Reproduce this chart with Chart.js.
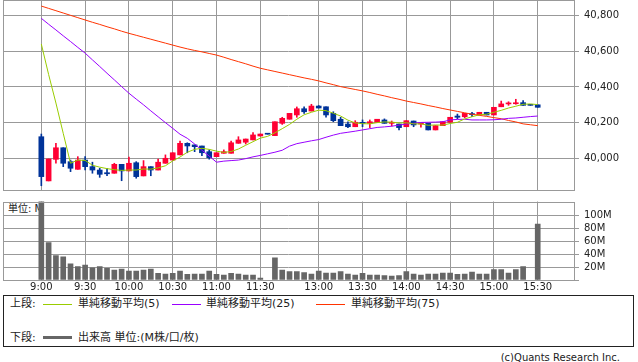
<!DOCTYPE html>
<html><head><meta charset="utf-8">
<script src="https://cdn.jsdelivr.net/npm/chart.js@4/dist/chart.umd.min.js"></script>
<style>
body{margin:0;background:#fff;width:638px;height:362px;overflow:hidden;position:relative;font-family:"DejaVu Sans","Noto Sans CJK JP",sans-serif;}
canvas{position:absolute;left:0;}
#c1{top:0;}
#c2{top:195px;}
.t{position:absolute;font-size:11px;color:#222;white-space:nowrap;line-height:13px;font-family:"DejaVu Sans","Noto Sans CJK JP",sans-serif;}
.box{position:absolute;left:3px;top:295px;width:631px;height:52px;border:1px solid #222;box-sizing:border-box;}
.ln{position:absolute;width:29px;}
</style></head><body>
<div class="t" style="left:8px;top:203px;font-size:10px;line-height:12px;">単位: M</div>
<canvas id="c1" width="638" height="191" style="width:638px;height:191px"></canvas>
<canvas id="c2" width="638" height="100" style="width:638px;height:100px"></canvas>
<div class="box"></div>
<div class="t" style="left:10px;top:297px;">上段:</div>
<div class="ln" style="left:43px;top:304px;height:1px;background:#99cc00"></div>
<div class="t" style="left:78px;top:297px;">単純移動平均(5)</div>
<div class="ln" style="left:172px;top:304px;height:1px;background:#9900ff"></div>
<div class="t" style="left:206px;top:297px;">単純移動平均(25)</div>
<div class="ln" style="left:316px;top:304px;height:1px;background:#ff3300"></div>
<div class="t" style="left:351px;top:297px;">単純移動平均(75)</div>
<div class="t" style="left:10px;top:331px;">下段:</div>
<div class="ln" style="left:43px;top:336px;height:3px;background:#666666"></div>
<div class="t" style="left:78px;top:331px;">出来高 単位:(M株/口/枚)</div>
<div class="t" style="right:18px;top:351px;font-size:10px;">(c)Quants Research Inc.</div>
<script>
// slot categories (5-minute bars)
const slots = ['9:00','9:05','9:10','9:15','9:20','9:25','9:30','9:35','9:40','9:45','9:50','9:55',
 '10:00','10:05','10:10','10:15','10:20','10:25','10:30','10:35','10:40','10:45','10:50','10:55',
 '11:00','11:05','11:10','11:15','11:20','11:25','11:30','',
 '12:30','12:35','12:40','12:45','12:50','12:55','13:00','13:05','13:10','13:15','13:20','13:25',
 '13:30','13:35','13:40','13:45','13:50','13:55','14:00','14:05','14:10','14:15','14:20','14:25',
 '14:30','14:35','14:40','14:45','14:50','14:55','15:00','15:05','15:10','15:15','15:20','15:25','15:30'];
const tickIdx = [0,6,12,18,24,30,38,44,50,56,62,68];
const tickLabels = ['9:00','9:30','10:00','10:30','11:00','11:30','13:00','13:30','14:00','14:30','15:00','15:30'];
const priceTicks = [40000,40200,40400,40600,40800];
const volTicks = [0,20,40,60,80,100];

const open  = [40121,39873,39994,40059,39981,39938,39990,39953,39934,39919,39916,39966,39929,39975,39901,39953,39934,39972,39990,40019,
 40084,40075,40069,40037,40009,40028,40028,40084,40090,40103,40125,40137,40127,40196,40219,40243,40278,40265,40293,40289,
 40252,40219,40192,40177,40199,40196,40202,40215,40196,40192,40177,40209,40192,40196,40159,40183,40202,40237,40233,40248,
 40243,40258,40243,40289,40305,40306,40312,40299,40300];
const high  = [40136,39996,40084,40059,39990,40009,40009,39978,39944,39944,39972,39966,40006,39981,39987,39953,39996,40019,40031,40097,
 40087,40075,40069,40047,40031,40047,40097,40121,40108,40144,40136,40137,40205,40230,40252,40288,40289,40303,40296,40289,
 40261,40230,40205,40211,40215,40215,40219,40221,40209,40192,40211,40209,40196,40196,40183,40205,40230,40248,40252,40258,
 40258,40258,40286,40321,40317,40331,40323,40299,40300];
const low   = [39846,39873,39972,39953,39925,39938,39934,39916,39893,39902,39916,39874,39929,39888,39901,39902,39934,39972,39990,40019,
 40031,40037,40015,39995,40009,40028,40028,40084,40080,40103,40125,40135,40127,40190,40219,40230,40252,40265,40282,40230,
 40205,40183,40172,40177,40177,40172,40202,40196,40181,40159,40177,40177,40174,40159,40159,40183,40202,40221,40228,40233,
 40243,40243,40243,40289,40297,40303,40297,40297,40286];
const close = [39897,39996,40059,39972,39944,39990,39953,39934,39910,39913,39966,39929,39972,39897,39953,39934,39978,40000,40031,40084,
 40069,40065,40031,40003,40031,40037,40087,40103,40108,40131,40136,40135,40205,40224,40252,40278,40261,40293,40282,40243,
 40211,40183,40177,40202,40196,40205,40219,40196,40199,40172,40211,40187,40196,40159,40183,40205,40230,40230,40252,40245,
 40258,40243,40286,40305,40308,40309,40297,40297,40286];

const ma5  = [40641,40470,40310,40140,39972,39990,39988,39961,39950,39942,39936,39932,39934,39934,39940,39939,39946,39958,39985,40007,
 40034,40050,40056,40050,40040,40033,40038,40052,40073,40093,40113,40123,40143,40166,40190,40219,40244,40258,40270,40267,
 40253,40237,40214,40198,40194,40193,40200,40204,40203,40198,40199,40193,40193,40185,40187,40186,40195,40202,40221,40233,
 40244,40247,40258,40269,40282,40292,40303,40305,40301];
const ma25 = [40785,40752,40720,40687,40655,40622,40590,40552,40515,40477,40440,40402,40365,40332,40300,40266,40233,40200,40168,40135,
 40112,40080,40045,40012,39978,39984,39987,39990,39998,40008,40016,40025,40034,40045,40068,40082,40090,40098,40105,40118,
 40130,40140,40146,40152,40159,40166,40173,40176,40180,40186,40192,40196,40201,40202,40203,40205,40215,40218,40219,40215,
 40215,40215,40216,40219,40224,40226,40230,40234,40237];
const ma75 = [40854,40841,40828,40815,40802,40789,40776,40763,40751,40738,40726,40713,40701,40690,40679,40668,40657,40646,40635,40624,
 40614,40605,40597,40588,40579,40567,40554,40542,40530,40517,40505,40496,40487,40478,40469,40460,40451,40443,40434,40423,
 40413,40402,40394,40386,40378,40369,40359,40350,40340,40331,40321,40313,40305,40296,40288,40279,40271,40263,40255,40247,
 40241,40235,40228,40222,40212,40204,40193,40188,40183];

const volume = [125,58,38,36,25,21,23,19,21,18,15.5,17,14,14,15.5,17,10.3,9.3,10.3,14,
 8.8,9.3,9.3,14,8.8,7.8,10.3,9.3,7.8,7.8,3.1,null,34.6,15.5,12.9,12.9,11.4,9.3,14,10.9,
 10.9,12.9,9.3,7.8,10.3,7.8,7.8,6.7,6.2,6.7,12.9,9.3,7.8,9.3,9.3,10.9,10.9,8.8,9.3,12.4,
 9.3,9.3,16,16,10.9,16,20.7,null,86.8];

const UP='#ff0033', DOWN='#003399', GRID='#999999', TXT='#222222';
const candleColors = open.map((o,i)=> close[i] > o ? UP : DOWN);

const frame = {id:'frame', afterDraw(chart){
  const {ctx, chartArea:a} = chart;
  ctx.save(); ctx.strokeStyle=GRID; ctx.lineWidth=1;
  const l=Math.round(a.left)+0.5, r=Math.round(a.right)+0.5, t=Math.round(a.top)+0.5, b=Math.round(a.bottom)+0.5;
  ctx.strokeRect(l,t,r-l,b-t); ctx.restore();
}};

const XMIN=-5.25, XMAX=72.97;
const font = {family:'DejaVu Sans', size:10};

new Chart(document.getElementById('c1'), {
  type:'bar',
  data:{datasets:[
    {type:'line', data: ma5.map((v,i)=>({x:i,y:v})), borderColor:'#99cc00', borderWidth:1, pointRadius:0, order:0},
    {type:'line', data: ma25.map((v,i)=>({x:i,y:v})), borderColor:'#9900ff', borderWidth:1, pointRadius:0, order:0},
    {type:'line', data: ma75.map((v,i)=>({x:i,y:v})), borderColor:'#ff3300', borderWidth:1, pointRadius:0, order:0},
    {type:'bar', data: low.map((v,i)=>({x:i,y:[v,high[i]]})), backgroundColor:candleColors, barThickness:1, grouped:false, order:2},
    {type:'bar', data: open.map((v,i)=>({x:i,y:[v,close[i]]})), backgroundColor:candleColors, barThickness:5, grouped:false, minBarLength:1, order:1}
  ]},
  options:{
    responsive:false, animation:false, events:[],
    layout:{padding:{left:3,top:0,right:0,bottom:1}},
    plugins:{legend:{display:false}, tooltip:{enabled:false}},
    scales:{
      x:{type:'linear', min:XMIN, max:XMAX, offset:false, ticks:{display:false}, grid:{color:GRID, drawTicks:false, offset:false}, border:{display:false},
         afterBuildTicks:s=>{s.ticks=tickIdx.map(v=>({value:v}));},
         afterFit:s=>{s.height=0; s.paddingLeft=0; s.paddingRight=0;}},
      y:{position:'right', min:39822, max:40888,
         ticks:{font, color:TXT, padding:5, callback:v=>v.toLocaleString('en-US')},
         grid:{color:GRID, tickLength:5}, border:{display:false},
         afterBuildTicks:s=>{s.ticks=priceTicks.map(v=>({value:v}));},
         afterFit:s=>{s.width=64; s.paddingTop=0; s.paddingBottom=0;}}
    }
  },
  plugins:[frame]
});

new Chart(document.getElementById('c2'), {
  type:'bar',
  data:{datasets:[
    {data: volume.map((v,i)=>({x:i,y:v})), backgroundColor:'#666666', barThickness:5}
  ]},
  options:{
    responsive:false, animation:false, events:[],
    layout:{padding:{left:3,top:6.5,right:0,bottom:0}},
    plugins:{legend:{display:false}, tooltip:{enabled:false}},
    scales:{
      x:{type:'linear', min:XMIN, max:XMAX, offset:false,
         ticks:{font, color:TXT, padding:1, autoSkip:false, maxRotation:0,
                callback:v=>{const k=tickIdx.indexOf(v); return k>=0?tickLabels[k]:'';}},
         grid:{color:GRID, drawTicks:false, offset:false}, border:{display:false},
         afterBuildTicks:s=>{s.ticks=tickIdx.map(v=>({value:v}));},
         afterFit:s=>{s.height=15; s.paddingLeft=0; s.paddingRight=0;}},
      y:{position:'right', min:0, max:122,
         ticks:{font, color:TXT, padding:5, callback:v=>v?v+'M':''},
         grid:{color:GRID, tickLength:5}, border:{display:false},
         afterBuildTicks:s=>{s.ticks=volTicks.map(v=>({value:v}));},
         afterFit:s=>{s.width=64; s.paddingTop=0; s.paddingBottom=0;}}
    }
  },
  plugins:[frame]
});
</script>
</body></html>
